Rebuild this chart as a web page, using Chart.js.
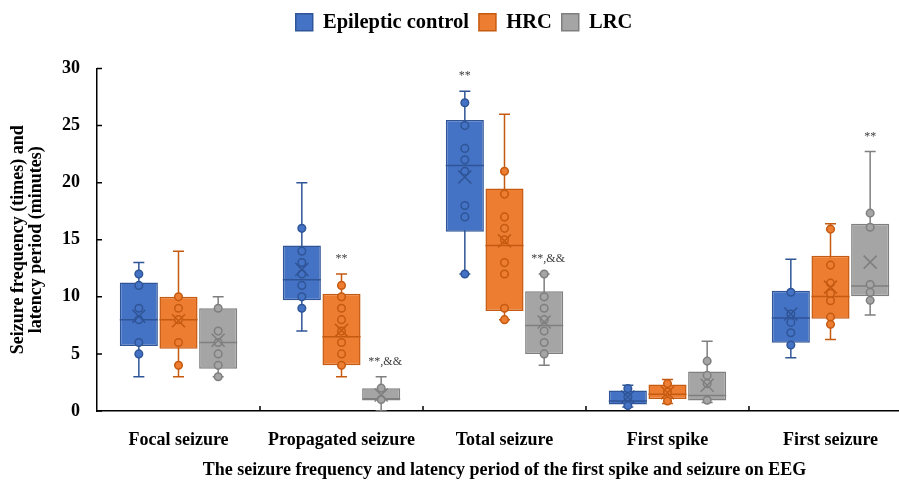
<!DOCTYPE html>
<html>
<head>
<meta charset="utf-8">
<script src="https://cdn.jsdelivr.net/npm/chart.js@4.4.1/dist/chart.umd.min.js"></script>
<style>
  html, body { margin: 0; padding: 0; background: #fff; overflow: hidden; }
  #wrap { width: 912px; height: 481px; }
</style>
</head>
<body>
<div id="wrap"><canvas id="grafico" width="912" height="481"></canvas></div>
<script>
// Categorias e séries
const categorias = ['Focal seizure', 'Propagated seizure', 'Total seizure', 'First spike', 'First seizure'];
const nomesSeries = ['Epileptic control', 'HRC', 'LRC'];
const yTicks = [0, 5, 10, 15, 20, 25, 30];

// Epileptic control
const epiMin    = [3, 7, 12, 0.35, 4.67];
const epiQ1     = [5.7, 9.7, 15.7, 0.58, 5.98];
const epiMediana = [8, 11.5, 21.5, 0.87, 8.14];
const epiQ3     = [11.25, 14.5, 25.5, 1.8, 10.53];
const epiMax    = [13, 20, 28, 2.25, 13.3];
const epiMedia  = [8.3, 12.4, 20.5, 1.22, 8.5];
const epiPontos = [[12, 11, 9, 8, 6, 5], [16, 14, 13, 12, 11, 10, 9], [27, 25, 23, 22, 21, 18, 17, 12], [1.96, 1.22, 0.47], [10.4, 8.5, 7.76, 6.86, 5.78]];

// HRC
const hrcMin    = [3, 3, 8, 0.65, 6.27];
const hrcQ1     = [5.45, 4, 8.75, 1.05, 8.08];
const hrcMediana = [8, 6.5, 14.5, 1.46, 10.04];
const hrcQ3     = [10, 10.27, 19.5, 2.33, 13.6];
const hrcMax    = [14, 12, 26, 2.77, 16.4];
const hrcMedia  = [7.9, 7.06, 14.9, 1.6, 10.85];
const hrcPontos = [[10, 9, 8, 6, 4], [11, 10, 9, 8, 7, 6, 5, 4], [21, 19, 17, 16, 15, 13, 12, 9, 8], [2.4, 1.66, 0.87], [15.93, 12.78, 11.2, 10.3, 9.66, 8.22, 7.59]];

// LRC
const lrcMin    = [3, 0, 4, 0.75, 8.4];
const lrcQ1     = [3.7, 1, 5, 0.91, 10.06];
const lrcMediana = [6, 1, 7.5, 1.35, 10.94];
const lrcQ3     = [9, 2, 10.5, 3.47, 16.4];
const lrcMax    = [10, 3, 12, 6.1, 22.72];
const lrcMedia  = [6.2, 1.4, 7.8, 2.25, 13.04];
const lrcPontos = [[9, 7, 6, 5, 4, 3], [2, 1], [12, 10, 9, 8, 7, 6, 5], [4.37, 3.12, 2.4, 0.94], [17.33, 16.1, 11.08, 10.39, 9.69]];

// Marcas de significância (categoria, série, texto)
const anotCategoria = [1, 1, 2, 2, 4];
const anotSerie     = [1, 2, 0, 2, 2];
const anotTexto     = ['**', '**,&&', '**', '**,&&', '**'];

const series = [
  { min: epiMin, q1: epiQ1, med: epiMediana, q3: epiQ3, max: epiMax, media: epiMedia, pontos: epiPontos },
  { min: hrcMin, q1: hrcQ1, med: hrcMediana, q3: hrcQ3, max: hrcMax, media: hrcMedia, pontos: hrcPontos },
  { min: lrcMin, q1: lrcQ1, med: lrcMediana, q3: lrcQ3, max: lrcMax, media: lrcMedia, pontos: lrcPontos }
];
const cores  = ['#4472C4', '#ED7D31', '#A5A5A5'];
const bordas = ['#2F5597', '#C55A11', '#7F7F7F'];
const fonte = '"Liberation Serif", "Times New Roman", serif';

// Plugin que desenha bigodes, mediana, pontos e média
const pluginBoxplot = {
  id: 'boxplot',
  afterInit(chart) {
    // espaço extra entre a legenda e a área do gráfico, e legenda um pouco à direita
    const legenda = chart.legend;
    if (legenda) {
      const fitOriginal = legenda.fit;
      legenda.fit = function() {
        fitOriginal.call(this);
        this.height += 26;
      };
      const drawOriginal = legenda.draw;
      legenda.draw = function() {
        const c = this.ctx;
        c.save();
        c.translate(8, 0);
        drawOriginal.call(this);
        c.restore();
      };
    }
  },
  beforeDatasetsDraw(chart) {
    const ctx = chart.ctx;
    const y = chart.scales.y;
    series.forEach((s, si) => {
      const meta = chart.getDatasetMeta(si);
      meta.data.forEach((bar, ci) => {
        const x = bar.x;
        ctx.save();
        ctx.strokeStyle = bordas[si];
        ctx.lineWidth = 1.5;
        ctx.beginPath();
        ctx.moveTo(x, y.getPixelForValue(s.min[ci]));
        ctx.lineTo(x, y.getPixelForValue(s.max[ci]));
        [s.min[ci], s.max[ci]].forEach(v => {
          const py = y.getPixelForValue(v);
          ctx.moveTo(x - 5.5, py);
          ctx.lineTo(x + 5.5, py);
        });
        ctx.stroke();
        ctx.restore();
      });
    });
  },
  afterDatasetsDraw(chart) {
    const ctx = chart.ctx;
    const y = chart.scales.y;
    const area = chart.chartArea;
    series.forEach((s, si) => {
      const meta = chart.getDatasetMeta(si);
      meta.data.forEach((bar, ci) => {
        const x = bar.x;
        const meia = bar.width / 2;
        ctx.save();
        ctx.strokeStyle = bordas[si];
        ctx.lineWidth = 1.5;
        // mediana
        const pm = y.getPixelForValue(s.med[ci]);
        ctx.beginPath();
        ctx.moveTo(x - meia, pm);
        ctx.lineTo(x + meia, pm);
        ctx.stroke();
        // pontos
        ctx.fillStyle = cores[si];
        s.pontos[ci].forEach(v => {
          ctx.beginPath();
          ctx.arc(x, y.getPixelForValue(v), 3.8, 0, Math.PI * 2);
          ctx.fill();
          ctx.stroke();
        });
        // média (X)
        const pmd = y.getPixelForValue(s.media[ci]);
        ctx.beginPath();
        ctx.moveTo(x - 6.5, pmd - 6.5);
        ctx.lineTo(x + 6.5, pmd + 6.5);
        ctx.moveTo(x + 6.5, pmd - 6.5);
        ctx.lineTo(x - 6.5, pmd + 6.5);
        ctx.stroke();
        ctx.restore();
      });
    });

    // marcas de significância
    ctx.save();
    ctx.fillStyle = '#404040';
    ctx.font = '12px ' + fonte;
    ctx.textAlign = 'center';
    ctx.textBaseline = 'middle';
    anotTexto.forEach((t, i) => {
      const bar = chart.getDatasetMeta(anotSerie[i]).data[anotCategoria[i]];
      const topo = y.getPixelForValue(series[anotSerie[i]].max[anotCategoria[i]]);
      ctx.fillText(t, bar.x + (t.length > 2 ? 4 : 0), topo - 15);
    });
    ctx.restore();

    // marcas de escala voltadas para dentro
    ctx.save();
    ctx.strokeStyle = '#000';
    ctx.lineWidth = 1.5;
    ctx.beginPath();
    yTicks.forEach(v => {
      const py = y.getPixelForValue(v);
      ctx.moveTo(area.left, py);
      ctx.lineTo(area.left + 5, py);
    });
    const x = chart.scales.x;
    for (let i = 1; i < categorias.length; i++) {
      const px = (x.getPixelForValue(i - 1) + x.getPixelForValue(i)) / 2;
      ctx.moveTo(px, area.bottom);
      ctx.lineTo(px, area.bottom - 5);
    }
    ctx.stroke();
    ctx.restore();
  }
};

const ctx = document.getElementById('grafico').getContext('2d');
new Chart(ctx, {
  type: 'bar',
  data: {
    labels: categorias,
    datasets: series.map((s, si) => ({
      label: nomesSeries[si],
      data: s.q1.map((v, ci) => [v, s.q3[ci]]),
      backgroundColor: cores[si],
      borderColor: bordas[si],
      borderWidth: 1.5,
      borderSkipped: false,
      categoryPercentage: 0.73,
      barPercentage: 0.96
    }))
  },
  options: {
    responsive: false,
    devicePixelRatio: 1,
    animation: false,
    layout: { padding: { top: 2, right: 0, left: 0, bottom: 0 } },
    plugins: {
      tooltip: { enabled: false },
      legend: {
        position: 'top',
        labels: {
          color: '#000',
          boxWidth: 17,
          boxHeight: 17,
          padding: 10,
          font: { family: fonte, size: 20.5, weight: 'bold' }
        }
      }
    },
    scales: {
      x: {
        grid: { display: false },
        border: { display: true, color: '#000', width: 1.5 },
        ticks: { color: '#000', padding: 11, font: { family: fonte, size: 18, weight: 'bold' } },
        title: {
          display: true,
          text: 'The seizure frequency and latency period of the first spike and seizure on EEG',
          color: '#000',
          padding: { top: 4, bottom: 0 },
          font: { family: fonte, size: 18, weight: 'bold' }
        },
        afterFit: scale => { scale.height = 70; }
      },
      y: {
        min: 0,
        max: 30,
        ticks: { stepSize: 5, color: '#000', padding: 9, font: { family: fonte, size: 18, weight: 'bold' } },
        grid: { display: false },
        border: { display: true, color: '#000', width: 1.5 },
        title: {
          display: true,
          text: ['Seizure frequency (times) and', 'latency period (minutes)'],
          color: '#000',
          padding: { top: 9, bottom: 4 },
          font: { family: fonte, size: 18, weight: 'bold', lineHeight: 1.0 }
        },
        afterFit: scale => { scale.width = 97; }
      }
    }
  },
  plugins: [pluginBoxplot]
});
</script>
</body>
</html>
